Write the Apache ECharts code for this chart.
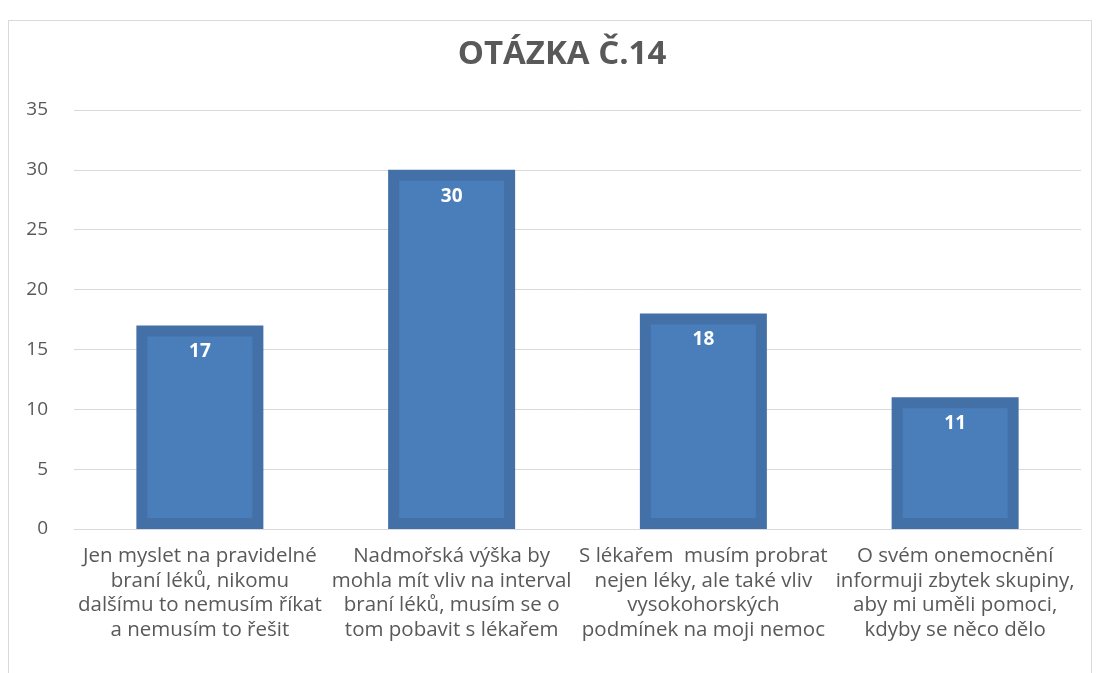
<!DOCTYPE html>
<html>
<head>
<meta charset="utf-8">
<script src="https://cdn.jsdelivr.net/npm/echarts@6/dist/echarts.min.js"></script>
<style>
  html, body { margin: 0; padding: 0; background: #fff; }
  #frame {
    position: absolute; left: 8px; top: 20px; width: 1084px; height: 660px;
    border: 1px solid #d9d9d9; box-sizing: border-box;
  }
  #chart { position: absolute; left: 0; top: 0; width: 1101px; height: 673px; }
</style>
</head>
<body>
<div id="frame"></div>
<div id="chart"></div>
<script>
const categories = [
  'Jen myslet na pravidelné\nbraní léků, nikomu\ndalšímu to nemusím říkat\na nemusím to řešit',
  'Nadmořská výška by\nmohla mít vliv na interval\nbraní léků, musím se o\ntom pobavit s lékařem',
  'S lékařem  musím probrat\nnejen léky, ale také vliv\nvysokohorských\npodmínek na moji nemoc',
  'O svém onemocnění\ninformuji zbytek skupiny,\naby mi uměli pomoci,\nkdyby se něco dělo'
]
const counts = [17, 30, 18, 11]

const chart = echarts.init(document.getElementById('chart'))

chart.setOption({
  animation: false,
  textStyle: { fontFamily: 'Open Sans' },
  title: {
    text: 'OTÁZKA Č.14',
    left: 557,
    top: 33,
    textAlign: 'center',
    textStyle: { color: '#595959', fontSize: 33, fontWeight: 'bold', fontFamily: 'Open Sans' }
  },
  grid: { left: 74, right: 20, top: 110, bottom: 144 },
  xAxis: {
    type: 'category',
    data: categories,
    axisLine: { lineStyle: { color: '#d9d9d9', width: 1 } },
    axisTick: { show: false },
    axisLabel: {
      color: '#595959', fontSize: 20.5, lineHeight: 24.6, margin: 15,
      interval: 0, align: 'center'
    }
  },
  yAxis: {
    type: 'value',
    min: 0,
    max: 35,
    interval: 5,
    axisLine: { show: false },
    axisTick: { show: false },
    axisLabel: { color: '#595959', fontSize: 19, margin: 26 },
    splitLine: { lineStyle: { color: '#d9d9d9', width: 1 } }
  },
  series: [
    {
      type: 'bar',
      data: counts,
      barWidth: 127,
      itemStyle: { color: '#4a7ebb', borderColor: '#4470a8', borderWidth: 11 },
      label: {
        show: true,
        position: 'insideTop',
        distance: 17,
        color: '#ffffff',
        fontSize: 19,
        fontWeight: 'bold'
      }
    }
  ]
})
</script>
</body>
</html>
